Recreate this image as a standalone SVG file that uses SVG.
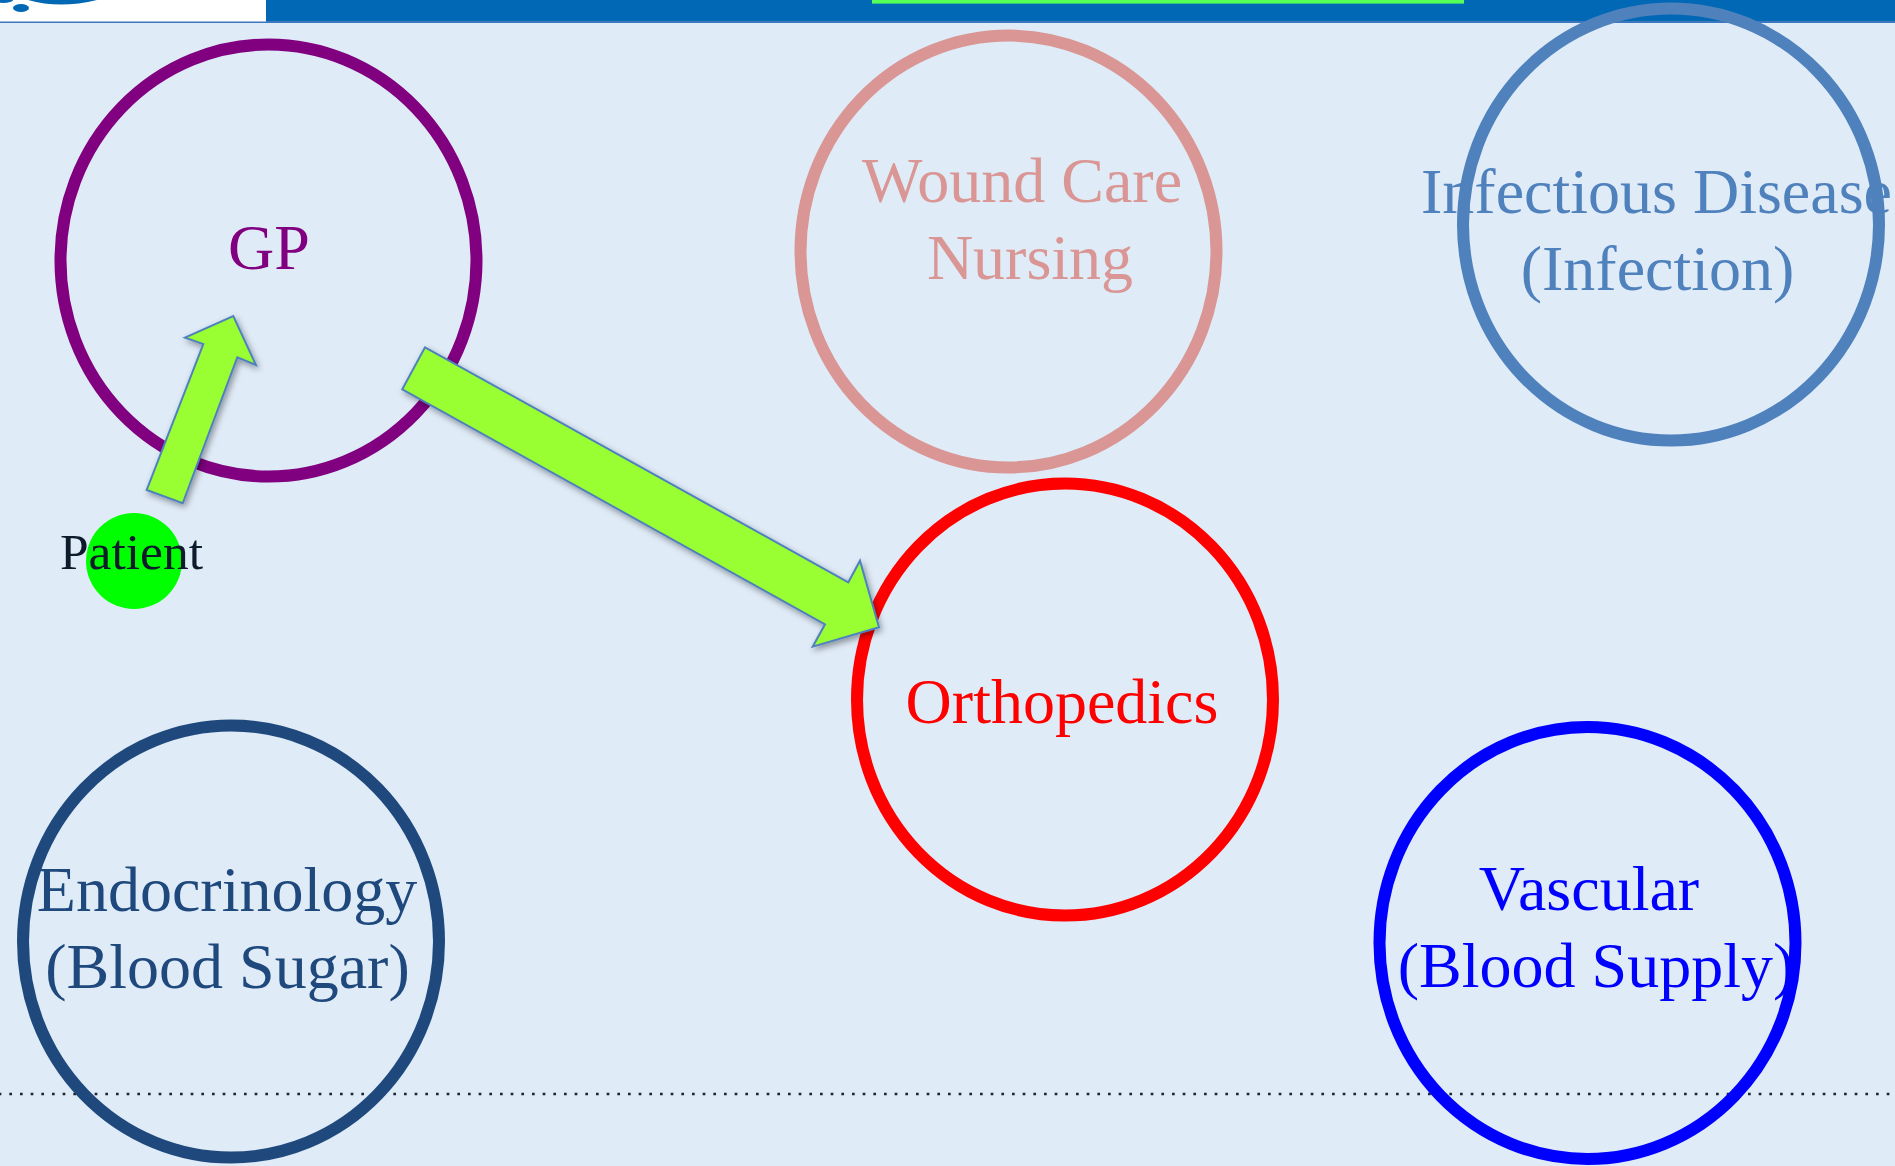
<svg xmlns="http://www.w3.org/2000/svg" width="1895" height="1166" viewBox="0 0 1895 1166">
<style>
.ring{fill:none;stroke-width:12}
text{font-family:"Liberation Serif","Times New Roman",serif;font-size:64px;text-anchor:middle}
.arrow{fill:#99ff33;stroke:#4f81bd;stroke-width:2;stroke-linejoin:miter;filter:url(#sh)}
</style>
<defs>
<filter id="sh" x="-20%" y="-20%" width="140%" height="140%"><feDropShadow dx="2" dy="3" stdDeviation="3" flood-color="#000" flood-opacity="0.38"/></filter>
</defs>
<rect width="1895" height="1166" fill="#dfebf7"/>
<g id="header">
<rect width="1895" height="21" fill="#0068b5"/>
<rect y="21" width="1895" height="2" fill="#3c78bd"/>
<rect width="266" height="22" fill="#fff"/>
<rect y="21.500" width="266" height="1.500" fill="#3c78bd"/>
<path d="M28 0Q60 9 97 0Z" fill="#0068b5"/>
<ellipse cx="21" cy="8" rx="8" ry="4" fill="#0068b5"/>
<ellipse cx="3" cy="0" rx="10" ry="3" fill="#0068b5"/>
<rect x="872" width="592" height="3.600" fill="#55ff55"/>
</g>
<line id="divider" x1="0" y1="1094" x2="1890" y2="1094" stroke="#1a2433" stroke-width="2.600" stroke-dasharray="2.667 8" stroke-dashoffset="-9.330"/>
<g id="gp"><ellipse class="ring" cx="268.500" cy="260.500" rx="208" ry="216" stroke="#800080"/><text x="269" y="269" fill="#800080">GP</text></g>
<g id="wound-care"><ellipse class="ring" cx="1008.500" cy="251.500" rx="208" ry="216" stroke="#d99694"/><text fill="#d99694"><tspan x="1022" y="202">Wound Care</tspan><tspan x="1030" y="279">Nursing</tspan></text></g>
<g id="infectious-disease"><ellipse class="ring" cx="1671" cy="224.500" rx="208" ry="216" stroke="#4f81bd"/><text fill="#4f81bd"><tspan x="1656.500" y="213">Infectious Disease</tspan><tspan x="1657.500" y="290">(Infection)</tspan></text></g>
<g id="orthopedics"><ellipse class="ring" cx="1065" cy="699.500" rx="208" ry="216" stroke="#ff0000"/><text x="1062" y="723" fill="#ff0000">Orthopedics</text></g>
<g id="endocrinology"><ellipse class="ring" cx="231" cy="941.500" rx="208" ry="216" stroke="#1f497d"/><text fill="#1f497d"><tspan x="227" y="911">Endocrinology</tspan><tspan x="227.500" y="988">(Blood Sugar)</tspan></text></g>
<g id="vascular"><ellipse class="ring" cx="1587.500" cy="943" rx="208" ry="216" stroke="#0000ff"/><text fill="#0000ff"><tspan x="1589" y="910">Vascular</tspan><tspan x="1596" y="987">(Blood Supply)</tspan></text></g>
<g id="patient"><circle cx="134" cy="561" r="48" fill="#00ff00"/><text x="131.500" y="569" fill="#0d1b2a" style="font-size:51.500px">Patient</text></g>
<g id="connectors">
<polygon class="arrow" points="146.700,490 182.700,503.300 237.300,357.300 256,365 233.300,316 185,337.700 203.300,344"/>
<polygon class="arrow" points="402.300,389.300 425,347.300 848.300,582.300 860,560.700 879,627.300 812.700,646.700 825,624.300"/>
</g>
</svg>
